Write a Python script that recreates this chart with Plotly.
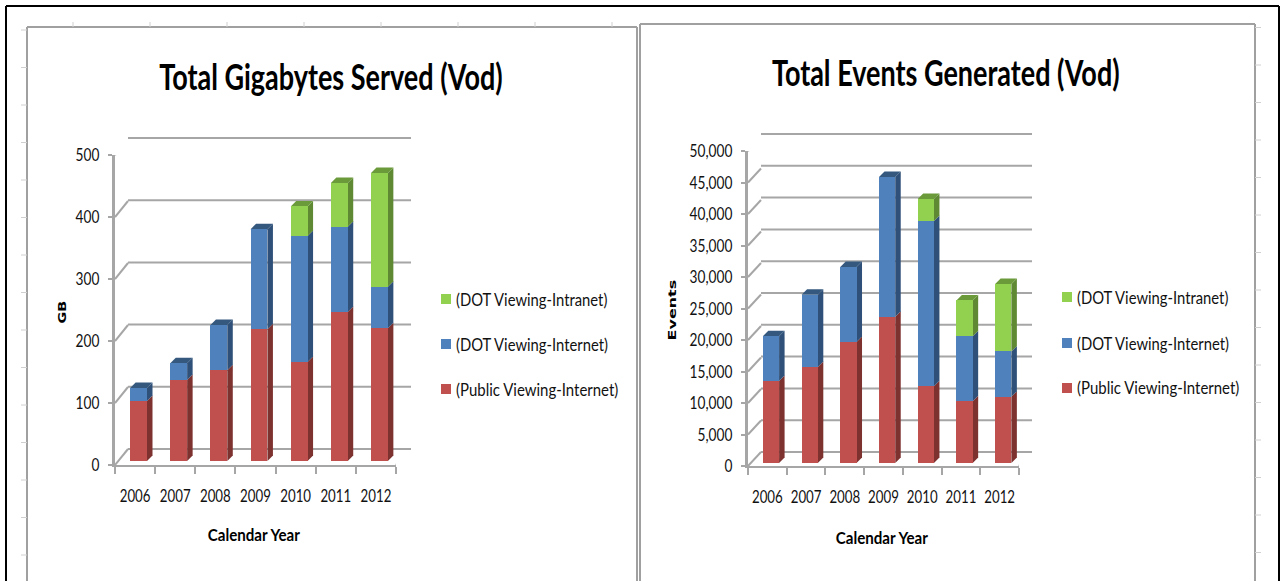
import json
import plotly.graph_objects as go

W, H = 1283, 581
years = [2006, 2007, 2008, 2009, 2010, 2011, 2012]
series_names = ["(Public Viewing-Internet)", "(DOT Viewing-Internet)", "(DOT Viewing-Intranet)"]

gb_public = [97, 131, 147, 213, 160, 241, 215]
gb_internet = [21, 27, 73, 162, 204, 138, 67]
gb_intranet = [0, 0, 0, 0, 48, 71, 184]

ev_public = [13000, 15250, 19200, 23200, 12200, 9800, 10500]
ev_internet = [7100, 11450, 11900, 22200, 26200, 10300, 7200]
ev_intranet = [0, 0, 0, 0, 3500, 5700, 10700]

FRONT = ["#C0504D", "#4F81BD", "#92D050"]
SIDE = ["#7E3230", "#2F5078", "#5F8A33"]
TOP = ["#8E3A38", "#35587F", "#6B9A3A"]
GRID = "#A6A6A6"
FONT = "Lato"
TXT = "#111111"

# horizontal squeeze applied to the text, the reference font being a narrow one
SQUEEZE = {"Total Gigabytes Served (Vod)": .75, "Total Events Generated (Vod)": .75, "Calendar Year": .89,
           "GB": 1.3, "Events": 1.45, "(DOT Viewing-Intranet)": .87, "(DOT Viewing-Internet)": .87,
           "(Public Viewing-Internet)": .88}

def px(x): return x / W
def py(y): return 1 - y / H

fig = go.Figure()
shapes, annos = [], []
layout = {}

def ax(n): return "" if n == 1 else str(n)

def chart(base, values, ymax, dtick, fmt, front, back, bars, title, title_xy, ytitle, ytitle_xy, xtitle_xy, legend_x, legend_ys):
    a, b, c = base, base + 1, base + 2
    depth_x, depth_y = 5.5, 5.5
    def dom_x(p): return [px(p[0]), px(p[1])]
    def dom_y(p): return [py(p[2]), py(p[3])]
    xr = [years[0] - .5, years[-1] + .5]
    yr = [0, ymax]
    ticks = list(range(0, ymax + 1, dtick))
    layout["xaxis" + ax(a)] = dict(domain=dom_x(front), range=xr, anchor="y" + ax(a), tickvals=years, automargin=False, tickangle=0,
        ticks="", showline=True, linecolor=GRID, linewidth=2, showgrid=False, zeroline=False,
        tickfont=dict(family=FONT, size=17, color=TXT), ticklabelstandoff=15,
        minor=dict(tickvals=[y - .5 for y in years] + [years[-1] + .5], ticks="outside", ticklen=7, tickcolor=GRID, tickwidth=2, showgrid=False))
    layout["yaxis" + ax(a)] = dict(domain=dom_y(front), range=yr, anchor="x" + ax(a), tickvals=ticks, tickformat=fmt, automargin=False,
        ticks="outside", ticklen=4, tickcolor=GRID, tickwidth=2, showline=True, linecolor=GRID, linewidth=3,
        showgrid=False, zeroline=False, tickfont=dict(family=FONT, size=18, color=TXT), ticklabelstandoff=5)
    # back wall axis: the range is padded a little so that the end grid lines are not clipped
    pad = 2
    units_back = ymax / (back[2] - back[3])
    layout["xaxis" + ax(b)] = dict(domain=dom_x(back), range=xr, anchor="y" + ax(b), automargin=False, showticklabels=False, ticks="", showgrid=False, zeroline=False)
    layout["yaxis" + ax(b)] = dict(domain=[py(back[2] + pad), py(back[3] - pad)], range=[-pad * units_back, ymax + pad * units_back],
        anchor="x" + ax(b), automargin=False, showticklabels=False, ticks="", showgrid=False, zeroline=False)
    layout["xaxis" + ax(c)] = dict(domain=dom_x(bars), range=xr, anchor="y" + ax(c), automargin=False, visible=False)
    layout["yaxis" + ax(c)] = dict(domain=dom_y(bars), range=yr, anchor="x" + ax(c), automargin=False, visible=False)

    fig.add_trace(go.Scatter(x=[None], y=[None], xaxis="x" + ax(b), yaxis="y" + ax(b), showlegend=False, hoverinfo="skip"))

    dx = back[0] - front[0]
    dy = front[2] - back[2]
    for t in ticks:
        shapes.append(dict(type="line", xref="x" + ax(b) + " domain", yref="y" + ax(b), x0=0, x1=1, y0=t, y1=t,
            line=dict(color=GRID, width=2), layer="below"))
        shapes.append(dict(type="path", xref="x" + ax(a), yref="y" + ax(a), xsizemode="pixel", ysizemode="pixel",
            xanchor=xr[0], yanchor=t, path=f"M0,0 L{dx},{dy}", line=dict(color=GRID, width=2), layer="below"))
    shapes.append(dict(type="path", xref="x" + ax(a), yref="y" + ax(a), xsizemode="pixel", ysizemode="pixel",
        xanchor=xr[1], yanchor=0, path=f"M0,0 L{back[1]-front[1]},{dy}", line=dict(color=GRID, width=2), layer="below"))

    bar_w = 0.42
    cat_px = (bars[1] - bars[0]) / len(years)
    hw = bar_w * cat_px / 2
    units = ymax / (bars[2] - bars[3])
    for i, yr_ in enumerate(years):
        stack = 0
        top_idx, top_val = 0, 0
        for s in range(3):
            v = values[s][i]
            if v == 0:
                continue
            y0, y1 = stack, stack + v
            up = depth_y * units
            shapes.append(dict(type="path", xref="x" + ax(c), yref="y" + ax(c), xsizemode="pixel", xanchor=yr_,
                path=f"M{hw},{y0} L{hw+depth_x},{y0+up} L{hw+depth_x},{y1+up} L{hw},{y1} Z",
                fillcolor=SIDE[s], line=dict(width=0), layer="below"))
            stack = y1
            top_idx, top_val = s, y1
        up = depth_y * units
        shapes.append(dict(type="path", xref="x" + ax(c), yref="y" + ax(c), xsizemode="pixel", xanchor=yr_,
            path=f"M{-hw},{top_val} L{-hw+depth_x},{top_val+up} L{hw+depth_x},{top_val+up} L{hw},{top_val} Z",
            fillcolor=TOP[top_idx], line=dict(width=0), layer="below"))

    for s in range(3):
        fig.add_trace(go.Bar(x=years, y=values[s], width=bar_w, name=series_names[s], marker=dict(color=FRONT[s], line=dict(width=0)),
            xaxis="x" + ax(c), yaxis="y" + ax(c), showlegend=False))

    annos.append(dict(text=title, xref="paper", yref="paper", x=px(title_xy[0]), y=py(title_xy[1]), showarrow=False,
        font=dict(family=FONT, size=36, color="#000000", weight="bold"), xanchor="center", yanchor="middle"))
    annos.append(dict(text=ytitle, xref="paper", yref="paper", x=px(ytitle_xy[0]), y=py(ytitle_xy[1]), showarrow=False, textangle=-90,
        font=dict(family="DejaVu Sans", size=11, color="#000000", weight="bold"), xanchor="center", yanchor="middle"))
    annos.append(dict(text="Calendar Year", xref="paper", yref="paper", x=px(xtitle_xy[0]), y=py(xtitle_xy[1]), showarrow=False,
        font=dict(family=FONT, size=17, color="#000000", weight="bold"), xanchor="center", yanchor="middle"))

    for s, ly in zip([2, 1, 0], legend_ys):
        shapes.append(dict(type="rect", xref="paper", yref="paper", x0=px(legend_x), x1=px(legend_x + 10),
            y0=py(ly - 5), y1=py(ly + 5), fillcolor=FRONT[s], line=dict(width=0)))
        annos.append(dict(text=series_names[s], xref="paper", yref="paper", x=px(legend_x + 13), y=py(ly), showarrow=False, align="left",
            font=dict(family=FONT, size=17, color=TXT), xanchor="left", yanchor="middle"))

chart(1, [gb_public, gb_internet, gb_intranet], 500, 100, "d",
      (115, 396, 465, 155), (128, 411, 449, 138), (118.5, 399.5, 461, 152),
      "Total Gigabytes Served (Vod)", (331, 76), "GB", (62, 313), (254, 534), 441, [299, 344, 389])
chart(4, [ev_public, ev_internet, ev_intranet], 50000, 5000, ",d",
      (748, 1019, 466, 151), (761, 1032, 452, 134), (751.6, 1022.6, 463, 148),
      "Total Events Generated (Vod)", (946, 72), "Events", (672, 310), (882, 537), 1062, [297, 343, 388])

def line(x0, y0, x1, y1, color, width):
    shapes.append(dict(type="line", xref="paper", yref="paper", x0=px(x0), x1=px(x1), y0=py(y0), y1=py(y1),
                       line=dict(color=color, width=width), layer="below"))

line(6, 6, 1279, 6, "#000000", 2)
line(6, 6, 6, 581, "#000000", 2)
line(1279, 6, 1279, 581, "#000000", 2)
line(27, 27, 637, 27, "#A0A0A0", 2)
line(27, 27, 27, 581, "#A0A0A0", 2)
line(637, 27, 637, 581, "#A0A0A0", 2)
line(640, 24, 1255, 24, "#A0A0A0", 2)
line(640, 24, 640, 581, "#A0A0A0", 2)
line(1255, 24, 1255, 581, "#A0A0A0", 2)
for k in range(8):
    line(73 + 77 * k, 22, 73 + 77 * k, 27, "#D0D0D0", 1)
for k in range(15):
    line(21, 30 + 37.5 * k, 27, 30 + 37.5 * k, "#D0D0D0", 1)
    line(1255, 27.5 + 37.5 * k, 1261, 27.5 + 37.5 * k, "#D0D0D0", 1)

fig.update_layout(width=W, height=H, margin=dict(l=0, r=0, t=0, b=0), paper_bgcolor="white", plot_bgcolor="rgba(0,0,0,0)",
                  barmode="stack", showlegend=False, shapes=shapes, annotations=annos, **layout)

script = """
document.body.style.margin='0';
var S = %s;
function sq(t, k){ var w = t.getComputedTextLength(); t.setAttribute('lengthAdjust','spacingAndGlyphs'); t.setAttribute('textLength', w*k); }
document.querySelectorAll('.annotation-text').forEach(function(t){ var k = S[t.textContent]; if(k) sq(t,k); });
document.querySelectorAll('g[class$="tick"] text').forEach(function(t){
  var c = t.parentNode.getAttribute('class');
  if(c.charAt(0) === 'x') sq(t,.78); else if(c.charAt(0) === 'y') sq(t,.76);
});
""" % json.dumps(SQUEEZE)
fig.write_html("out.html", post_script=script, config=dict(displayModeBar=False))
